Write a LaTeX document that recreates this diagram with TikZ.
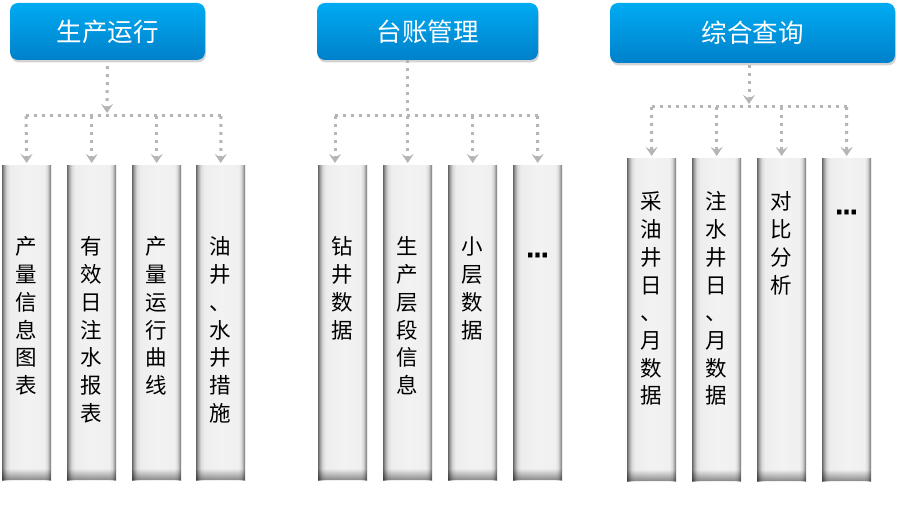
\documentclass[tikz,border=0pt]{standalone}
\usepackage{fontspec}
\setmainfont{Noto Sans CJK SC}
\newfontfamily\dotsfont{DejaVu Sans}[FakeBold=1.6]
\usetikzlibrary{arrows.meta,shadows,fadings}
\pgfdeclarehorizontalshading{colshade}{100bp}{color(0bp)=(gray!85!black);color(25bp)=(gray!85!black);color(27bp)=(gray!70);color(29.5bp)=(gray!30);color(33bp)=(gray!14);color(50bp)=(gray!10);color(68bp)=(gray!12);color(71bp)=(gray!30);color(73bp)=(gray!70);color(75bp)=(gray!85!black);color(100bp)=(gray!85!black)}
\definecolor{hdtop}{HTML}{00ABF2}
\definecolor{hdbot}{HTML}{0080CA}
\definecolor{conncol}{HTML}{B5B5B5}
\tikzset{
  header/.style={rounded corners=8pt, top color=hdtop, bottom color=hdbot, draw=none,
    text=white, font=\fontsize{25.5}{30}\selectfont, inner sep=0pt,
    drop shadow={opacity=0.35, shadow xshift=1pt, shadow yshift=-2.5pt}},
  colbox/.style={shading=colshade, draw=none, minimum width=49pt, inner sep=0pt, anchor=north west},
  coltext/.style={font=\fontsize{21.5}{24}\selectfont, text=black, inner sep=0pt,
    text height=0.8em, text depth=0.2em},
  dotstext/.style={font=\dotsfont\fontsize{22}{24}\selectfont\bfseries, text=black, inner sep=0pt},
  conn/.style={draw=conncol, line width=3pt, dash pattern=on 3pt off 5pt, line cap=butt},
  arr/.style={conn, -{Stealth[length=9pt,width=12pt,inset=3.5pt,fill=conncol,color=conncol]}},
}
\newcommand\vtext[4]{\foreach \c [count=\i from 0] in {#4} {\node[coltext] (#1-\i) at (#2,{#3+\i*27.7}) {\c};}}
\newcommand\colshadow[1]{\fill[black, opacity=0.45, path fading=north] (#1.south west) rectangle ([yshift=12pt]#1.south east);}
\begin{document}
\begin{tikzpicture}[x=1pt,y=-1pt]
\useasboundingbox (0,0) rectangle (900,526);
% headers
\node[header, minimum width=195pt, minimum height=57pt] (h1) at (107.5,31.5) {生产运行};
\node[header, minimum width=221pt, minimum height=57pt] (h2) at (427.5,31.5) {台账管理};
\node[header, minimum width=285pt, minimum height=60pt] (h3) at (752.5,33) {综合查询};
% group 1 columns
\node[colbox, minimum height=315pt] (a1) at (2,165) {};
\node[colbox, minimum height=315pt] (a2) at (67,165) {};
\node[colbox, minimum height=315pt] (a3) at (132,165) {};
\node[colbox, minimum height=315pt] (a4) at (196,165) {};
% group 2 columns
\node[colbox, minimum height=315pt] (b1) at (318,165) {};
\node[colbox, minimum height=315pt] (b2) at (383,165) {};
\node[colbox, minimum height=315pt] (b3) at (448,165) {};
\node[colbox, minimum height=315pt] (b4) at (513,165) {};
% group 3 columns
\node[colbox, minimum height=323pt] (c1) at (627,158) {};
\node[colbox, minimum height=323pt] (c2) at (692,158) {};
\node[colbox, minimum height=323pt] (c3) at (757,158) {};
\node[colbox, minimum height=323pt] (c4) at (822,158) {};
\foreach \n in {a1,a2,a3,a4,b1,b2,b3,b4,c1,c2,c3,c4} {\colshadow{\n}}
% texts
\vtext{ta1}{26.5}{252}{产,量,信,息,图,表}
\vtext{ta2}{91.5}{252}{有,效,日,注,水,报,表}
\vtext{ta3}{156.5}{252}{产,量,运,行,曲,线}
\vtext{ta4}{220.5}{252}{油,井,、,水,井,措,施}
\vtext{tb1}{342.5}{252}{钻,井,数,据}
\vtext{tb2}{407.5}{252}{生,产,层,段,信,息}
\vtext{tb3}{472.5}{252}{小,层,数,据}
\node[dotstext] (tb4) at (537.5,255) {…};
\vtext{tc1}{651.5}{207}{采,油,井,日,、,月,数,据}
\vtext{tc2}{716.5}{207}{注,水,井,日,、,月,数,据}
\vtext{tc3}{781.5}{207}{对,比,分,析}
\node[dotstext] (tc4) at (846.5,212) {…};
% connectors group 1
\coordinate (j1) at (107,113);
\coordinate (l1) at (26,116);
\coordinate (r1) at (221,116);
\draw[arr] ([yshift=-6pt]h1.south) -- (j1);
\draw[conn] (l1) -- (r1);
\draw[arr] (l1) -- ([yshift=2pt]a1.north);
\draw[arr] (a2.north |- l1) -- ([yshift=2pt]a2.north);
\draw[arr] (a3.north |- l1) -- ([yshift=2pt]a3.north);
\draw[arr] (r1) -- ([yshift=2pt]a4.north);
% connectors group 2
\coordinate (l2) at (335,116);
\coordinate (r2) at (537.5,116);
\draw[arr] (h2.south -| b2.north) -- ([yshift=2pt]b2.north);
\draw[conn] (l2) -- (r2);
\draw[arr] (l2) -- ([yshift=2pt]l2 |- b1.north);
\draw[arr] (b3.north |- l2) -- ([yshift=2pt]b3.north);
\draw[arr] (r2) -- ([yshift=2pt]b4.north);
% connectors group 3
\coordinate (j3) at (749,104);
\coordinate (l3) at (651.5,107);
\coordinate (r3) at (846.5,107);
\draw[arr] ([xshift=-3.5pt,yshift=-2pt]h3.south) -- (j3);
\draw[conn] (l3) -- (r3);
\draw[arr] (l3) -- ([yshift=2pt]c1.north);
\draw[arr] (c2.north |- l3) -- ([yshift=2pt]c2.north);
\draw[arr] (c3.north |- l3) -- ([yshift=2pt]c3.north);
\draw[arr] (r3) -- ([yshift=2pt]c4.north);
\end{tikzpicture}
\end{document}
